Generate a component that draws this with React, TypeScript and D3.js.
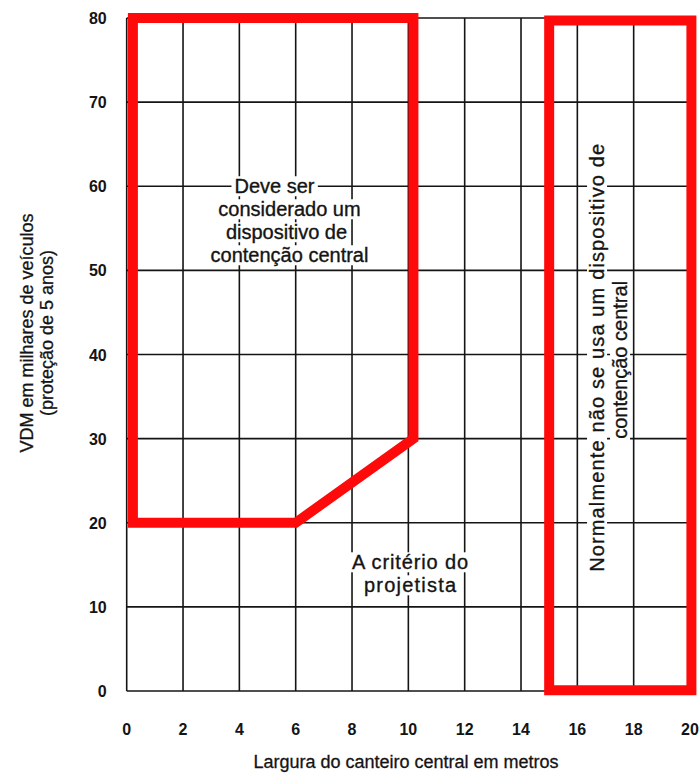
import React, { useEffect, useRef } from "react";
import * as d3 from "d3";

const xTicks = [0, 2, 4, 6, 8, 10, 12, 14, 16, 18, 20];
const yTicks = [0, 10, 20, 30, 40, 50, 60, 70, 80];
const zoneMustConsider: [number, number][] = [
  [0.22, 80],
  [10.18, 80],
  [10.18, 30],
  [6, 20],
  [0.22, 20],
];
const zoneNotUsed: [number, number][] = [
  [15, 0.1],
  [15, 79.7],
  [20.05, 79.7],
  [20.05, 0.1],
];
const labelMust = ["Deve ser", "considerado um", "dispositivo de", "contenção central"];
const labelDesigner = ["A critério do", "projetista"];
const labelNotUsed = ["Normalmente não se usa um dispositivo de", "contenção central"];
const xTitle = "Largura do canteiro central em metros";
const yTitle = ["VDM em milhares de veículos", "(proteção de 5 anos)"];

const W = 700;
const H = 776;
const FONT = "'Liberation Sans', Arial, Helvetica, sans-serif";
const INK = "#141414";
const RED = "#ff0a0a";

export default function App() {
  const ref = useRef<SVGSVGElement | null>(null);

  useEffect(() => {
    const svg = d3.select(ref.current);
    svg.selectAll("*").remove();

    const x = d3.scaleLinear().domain([0, 20]).range([126.7, 690]);
    const y = d3.scaleLinear().domain([0, 80]).range([691, 18]);

    svg.append("rect").attr("width", W).attr("height", H).attr("fill", "#fff");

    const grid = svg.append("g");
    grid
      .selectAll("line.v")
      .data(xTicks)
      .join("line")
      .attr("x1", (d) => x(d))
      .attr("x2", (d) => x(d))
      .attr("y1", y(0))
      .attr("y2", y(80))
      .attr("stroke", INK)
      .attr("stroke-width", 1.6);
    grid
      .selectAll("line.h")
      .data(yTicks)
      .join("line")
      .attr("x1", x(0))
      .attr("x2", x(20))
      .attr("y1", (d) => y(d))
      .attr("y2", (d) => y(d))
      .attr("stroke", INK)
      .attr("stroke-width", 1.6);

    // tick labels
    svg
      .append("g")
      .selectAll("text")
      .data(yTicks)
      .join("text")
      .attr("x", x(0) - 20)
      .attr("y", (d) => y(d) + 6)
      .attr("text-anchor", "end")
      .attr("font-family", FONT)
      .attr("font-size", 16)
      .attr("font-weight", "bold")
      .attr("fill", INK)
      .text((d) => String(d));
    svg
      .append("g")
      .selectAll("text")
      .data(xTicks)
      .join("text")
      .attr("x", (d) => x(d))
      .attr("y", 735)
      .attr("text-anchor", "middle")
      .attr("font-family", FONT)
      .attr("font-size", 16)
      .attr("font-weight", "bold")
      .attr("fill", INK)
      .text((d) => String(d));

    // axis titles
    svg
      .append("text")
      .attr("x", 406)
      .attr("y", 768)
      .attr("text-anchor", "middle")
      .attr("font-family", FONT)
      .attr("font-size", 18)
      .attr("fill", INK)
      .attr("stroke", INK)
      .attr("stroke-width", 0.3)
      .text(xTitle);
    const yt = svg.append("g").attr("transform", "translate(0,333) rotate(-90)");
    yTitle.forEach((t, i) => {
      yt.append("text")
        .attr("x", 0)
        .attr("y", 33 + i * 20)
        .attr("text-anchor", "middle")
        .attr("font-family", FONT)
        .attr("font-size", 18)
        .attr("fill", INK)
        .attr("stroke", INK)
        .attr("stroke-width", 0.3)
        .text(t);
    });

    // annotation helper with white boxes
    const annot = (
      g: d3.Selection<SVGGElement, unknown, null, undefined>,
      lines: string[],
      size: number,
      step: number,
      dxs: number[] = [],
      lens: (number | null)[] = []
    ) => {
      lines.forEach((t, i) => {
        const bg = g.append("rect").attr("fill", "#fff");
        const tx = g
          .append("text")
          .attr("x", dxs[i] || 0)
          .attr("y", i * step)
          .attr("text-anchor", "middle")
          .attr("dominant-baseline", "central")
          .attr("font-family", FONT)
          .attr("font-size", size)
          .attr("fill", INK)
          .attr("stroke", INK)
          .attr("stroke-width", 0.35)
          .text(t);
        if (lens[i]) tx.attr("textLength", lens[i] as number).attr("lengthAdjust", "spacing");
        const bb = (tx.node() as SVGTextElement).getBBox();
        bg.attr("x", bb.x - 3)
          .attr("y", bb.y + 1)
          .attr("width", bb.width + 6)
          .attr("height", bb.height - 2);
      });
    };

    const g1 = svg.append("g").attr("transform", `translate(${x(5.78)},${y(60)})`);
    annot(g1, labelMust, 20, 23, [-15, 0, -3, 0]);
    const g2 = svg.append("g").attr("transform", `translate(${x(10.06)},${y(15.3)})`);
    annot(g2, labelDesigner, 20, 23, [0, 0], [116, 92]);
    const g3 = svg
      .append("g")
      .attr("transform", `translate(${x(16.7)},${y(39.6)}) rotate(-90)`);
    annot(g3, labelNotUsed, 20, 23, [0, -2], [428, null]);

    // red zones
    const line = d3
      .line<[number, number]>()
      .x((d) => x(d[0]))
      .y((d) => y(d[1]))
      .curve(d3.curveLinearClosed);
    [zoneMustConsider, zoneNotUsed].forEach((z) => {
      svg
        .append("path")
        .attr("d", line(z))
        .attr("fill", "none")
        .attr("stroke", RED)
        .attr("stroke-width", 10)
        .attr("stroke-linejoin", "miter");
    });
  }, []);

  return (
    <svg
      ref={ref}
      width={W}
      height={H}
      style={{ position: "absolute", left: 0, top: 0 }}
    />
  );
}
